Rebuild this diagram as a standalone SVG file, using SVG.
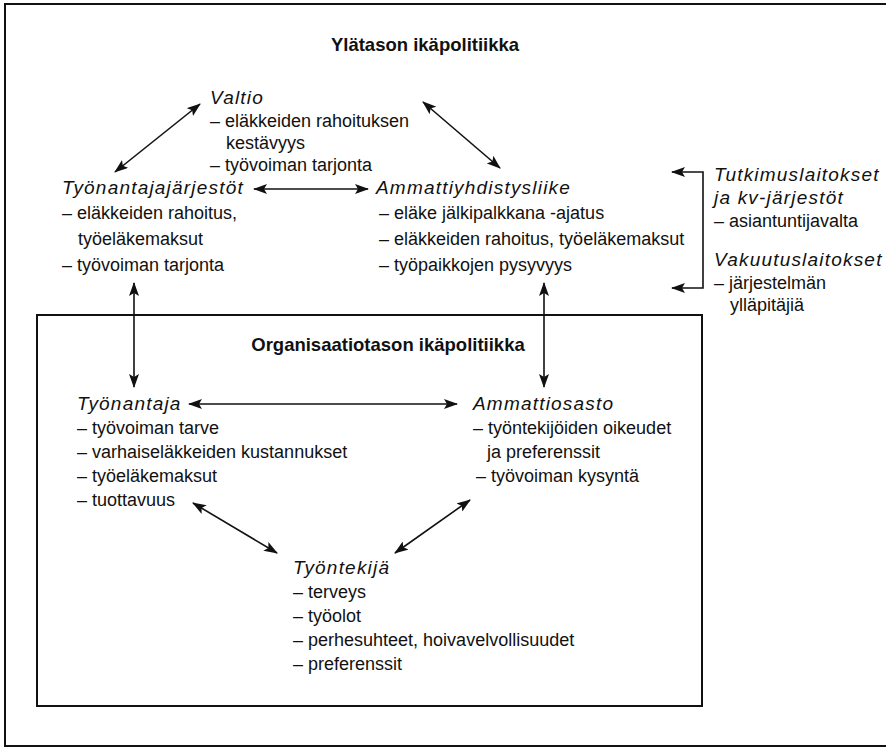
<svg xmlns="http://www.w3.org/2000/svg" width="886" height="748" viewBox="0 0 886 748">
<style>
text{font-family:"Liberation Sans",Arial,sans-serif;fill:#111;}
.b{font-size:18px;}
.h{font-size:19px;font-style:italic;letter-spacing:1.2px;}
.t{font-size:18.5px;font-weight:bold;}
.frame{fill:none;stroke:#111;stroke-width:2;}
.c{fill:none;stroke:#111;stroke-width:1.6;marker-start:url(#a);marker-end:url(#a);}
</style>
<defs>
<marker id="a" viewBox="0 0 14 10" refX="13" refY="5" markerWidth="14" markerHeight="10" markerUnits="userSpaceOnUse" orient="auto-start-reverse">
<path d="M0,0 L14,5 L0,10 L3,5 z" fill="#111"/>
</marker>
</defs>
<rect width="886" height="748" fill="#fff"/>
<g id="frames">
<path class="frame" d="M886,4 H5 V746 H886"/>
<rect class="frame" x="37" y="315" width="665" height="391"/>
</g>
<g id="title-top"><text class="t" x="425" y="51" text-anchor="middle">Ylätason ikäpolitiikka</text></g>
<g id="valtio">
<text class="h" x="210" y="104">Valtio</text>
<text class="b" x="210" y="126.5">– eläkkeiden rahoituksen</text>
<text class="b" x="226" y="148.5">kestävyys</text>
<text class="b" x="210" y="170.5">– työvoiman tarjonta</text>
</g>
<g id="tyonantajajarjestot">
<text class="h" x="62" y="194">Työnantajajärjestöt</text>
<text class="b" x="62" y="219">– eläkkeiden rahoitus,</text>
<text class="b" x="78" y="245">työeläkemaksut</text>
<text class="b" x="62" y="271">– työvoiman tarjonta</text>
</g>
<g id="ammattiyhdistysliike">
<text class="h" x="376" y="194">Ammattiyhdistysliike</text>
<text class="b" x="379" y="219">– eläke jälkipalkkana -ajatus</text>
<text class="b" x="379" y="245">– eläkkeiden rahoitus, työeläkemaksut</text>
<text class="b" x="379" y="271">– työpaikkojen pysyvyys</text>
</g>
<g id="tutkimuslaitokset">
<text class="h" x="714" y="181">Tutkimuslaitokset</text>
<text class="h" x="714" y="204">ja kv-järjestöt</text>
<text class="b" x="714" y="227">– asiantuntijavalta</text>
</g>
<g id="vakuutuslaitokset">
<text class="h" x="714" y="266">Vakuutuslaitokset</text>
<text class="b" x="714" y="289">– järjestelmän</text>
<text class="b" x="730" y="311">ylläpitäjiä</text>
</g>
<g id="title-org"><text class="t" x="388" y="351" text-anchor="middle">Organisaatiotason ikäpolitiikka</text></g>
<g id="tyonantaja">
<text class="h" x="77" y="410">Työnantaja</text>
<text class="b" x="77" y="434">– työvoiman tarve</text>
<text class="b" x="77" y="458">– varhaiseläkkeiden kustannukset</text>
<text class="b" x="77" y="482">– työeläkemaksut</text>
<text class="b" x="77" y="506">– tuottavuus</text>
</g>
<g id="ammattiosasto">
<text class="h" x="473" y="410">Ammattiosasto</text>
<text class="b" x="473" y="434">– työntekijöiden oikeudet</text>
<text class="b" x="487" y="458">ja preferenssit</text>
<text class="b" x="476" y="482">– työvoiman kysyntä</text>
</g>
<g id="tyontekija">
<text class="h" x="293" y="574">Työntekijä</text>
<text class="b" x="293" y="598">– terveys</text>
<text class="b" x="293" y="622">– työolot</text>
<text class="b" x="293" y="646">– perhesuhteet, hoivavelvollisuudet</text>
<text class="b" x="293" y="670">– preferenssit</text>
</g>
<g id="connectors">
<line class="c" x1="200" y1="104" x2="115" y2="172"/>
<line class="c" x1="423" y1="102" x2="500" y2="168"/>
<line class="c" x1="254" y1="189" x2="368" y2="189"/>
<line class="c" x1="134" y1="283" x2="134" y2="387"/>
<line class="c" x1="544" y1="283" x2="544" y2="387"/>
<line class="c" x1="189" y1="404" x2="457" y2="404"/>
<line class="c" x1="193" y1="503" x2="277" y2="553"/>
<line class="c" x1="470" y1="500" x2="395" y2="553"/>
<path class="c" d="M672,172 H703 V288 H672"/>
</g>
</svg>
